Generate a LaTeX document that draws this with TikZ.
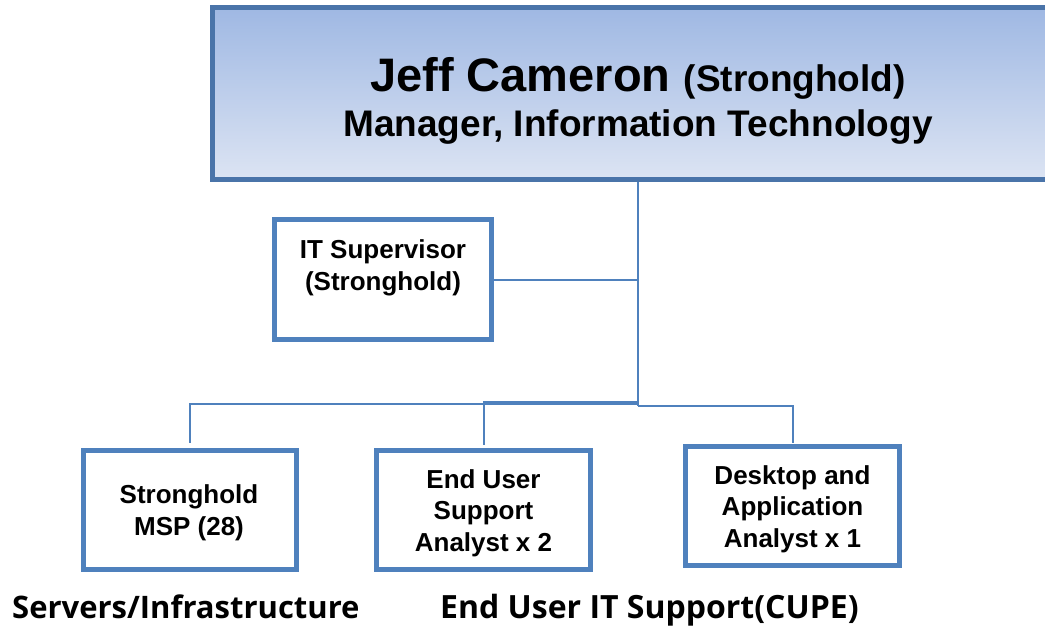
\documentclass[tikz,border=0pt]{standalone}
\usepackage{fontspec}
\setmainfont{Liberation Sans}
\newfontfamily\capfont{Open Sans}
\usetikzlibrary{calc}
\definecolor{topborder}{HTML}{4A74A9}
\definecolor{boxborder}{HTML}{4F81BD}
\definecolor{topfillA}{HTML}{9FB8E3}
\definecolor{topfillB}{HTML}{DCE4F3}
\definecolor{linecol}{HTML}{4F81BD}
\tikzset{
  topbox/.style={draw=topborder, line width=5pt, top color=topfillA, bottom color=topfillB, inner sep=0pt, rectangle},
  rolebox/.style={draw=boxborder, line width=5pt, fill=white, inner sep=0pt, rectangle, minimum width=214pt, minimum height=119pt},
  roletext/.style={font=\bfseries\fontsize{26}{31.5}\selectfont, align=center, inner sep=0pt, anchor=base},
  conn/.style={draw=linecol, line width=2pt},
  caption/.style={font=\capfont\bfseries\fontsize{31}{36}\selectfont, inner sep=0pt, anchor=base west}
}
\begin{document}
\begin{tikzpicture}[x=1pt,y=-1pt]
\useasboundingbox (0,0) rectangle (1045,626);
\clip (0,0) rectangle (1045,626);
% top box
\node[topbox, minimum width=851.5pt, minimum height=172pt] (top) at (638,93.5) {};
\node[inner sep=0pt, anchor=base] (name) at (638,92) {\bfseries\fontsize{47}{52}\selectfont Jeff Cameron \fontsize{37}{40}\selectfont(Stronghold)};
\node[inner sep=0pt, anchor=base] (title) at (638,136) {\bfseries\fontsize{37}{40}\selectfont Manager, Information Technology};
% supervisor
\node[rolebox, minimum width=217pt, minimum height=120pt] (sup) at (383,279.5) {};
\node[roletext] (suptxt) at (383,290) {IT Supervisor\\(Stronghold)};
% bottom boxes
\node[rolebox, minimum width=213pt] (msp) at (190,510) {};
\node[roletext] (msptxt) at (189,535) {Stronghold\\MSP (28)};
\node[rolebox] (eus) at (483.5,510) {};
\node[roletext] (eustxt) at (483.5,551) {End User\\Support\\Analyst x 2};
\node[rolebox] (daa) at (792.5,506) {};
\node[roletext] (daatxt) at (792.5,547) {Desktop and\\Application\\Analyst x 1};
% connectors
\coordinate (b1) at (638,404);
\coordinate (b2) at (638,402);
\coordinate (b3) at (638,406);
\draw[conn] (top.south) |- (sup.east);
\draw[conn] (top.south) -- (b3);
\draw[conn, shorten >=5pt] (b1) -| (msp.north);
\draw[conn, shorten >=3pt] (b2) -| (eus.north);
\draw[conn, shorten >=1pt] (b3) -| (daa.north);
% captions
\node[caption] (cap1) at (12,618) {Servers/Infrastructure};
\node[caption, font=\capfont\bfseries\fontsize{32}{36}\selectfont] (cap2) at (440,618) {End User IT Support(CUPE)};
\end{tikzpicture}
\end{document}
